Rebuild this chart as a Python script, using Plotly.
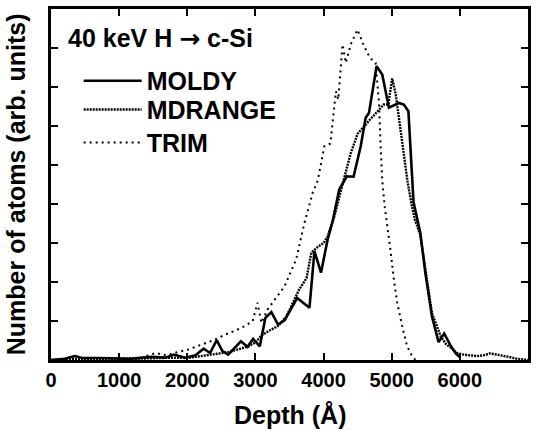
import plotly.graph_objects as go

# ---- data ----
moldy_x = [0, 100, 200, 350, 460, 700, 1150, 1480, 1680, 1800, 1970, 2120, 2240, 2335, 2432,
           2515, 2600, 2787, 2884, 2966, 3064, 3146, 3234, 3331, 3428, 3612, 3793, 3866, 3962,
           4060, 4133, 4230, 4340, 4440, 4545, 4618, 4667, 4778, 4861, 4959, 5105, 5178, 5245,
           5320, 5420, 5493, 5590, 5688, 5770, 5860, 5945, 6000]
moldy_y = [0, 0.02, 0.03, 0.1, 0.05, 0.05, 0.03, 0.08, 0.06, 0.14, 0.06, 0.12, 0.29, 0.18, 0.51,
           0.23, 0.14, 0.48, 0.34, 0.54, 0.35, 1.08, 1.23, 0.91, 1.02, 1.59, 1.34, 2.79, 2.24,
           3.09, 3.56, 4.37, 4.71, 4.70, 5.48, 6.21, 6.34, 7.53, 7.32, 6.47, 6.59, 6.55, 6.38,
           4.05, 3.26, 2.24, 1.12, 0.46, 0.68, 0.38, 0.16, 0.08]

mdrange_x = [0, 300, 600, 900, 1200, 1500, 1800, 2000, 2200, 2400, 2600, 2800, 2900, 3000, 3090,
             3200, 3330, 3450, 3530, 3640, 3750, 3820, 3900, 4000, 4060, 4160, 4270, 4400, 4500,
             4620, 4700, 4780, 4880, 4950, 5007, 5060, 5135, 5180, 5230, 5290, 5340, 5420, 5500,
             5590, 5663, 5720, 5800, 5880, 5950, 6050, 6150, 6250, 6350, 6440, 6540, 6650, 6750,
             6850, 6950, 7000]
mdrange_y = [0.0, 0.03, 0.02, 0.04, 0.03, 0.05, 0.06, 0.05, 0.1, 0.15, 0.2, 0.3, 0.35, 0.45, 0.63,
             0.75, 0.87, 1.1, 1.4, 1.8, 2.1, 2.75, 2.88, 3.0, 3.17, 3.69, 4.45, 5.31, 5.8,
             6.05, 6.2, 6.35, 6.55, 6.55, 7.22, 6.8, 5.8, 5.2, 4.6, 4.0, 3.6, 3.2, 2.25,
             1.2, 0.87, 0.6, 0.4, 0.3, 0.18, 0.14, 0.12, 0.1, 0.12, 0.17, 0.14, 0.1, 0.06,
             0.03, 0.01, 0.0]

trim_x = [0, 300, 600, 900, 1100, 1300, 1533, 1700, 1850, 2019, 2213, 2400, 2554, 2700, 2845,
          2960, 3030, 3088, 3180, 3283, 3428, 3598, 3720, 3841, 3914, 4012, 4100, 4181, 4216,
          4278, 4327, 4400, 4497, 4594, 4680, 4764, 4813, 4837, 4861, 4900, 4940, 4983, 5032,
          5080, 5153, 5226, 5299, 5350]
trim_y = [0, 0.02, 0.03, 0.02, 0.05, 0.04, 0.18, 0.12, 0.2, 0.27, 0.4, 0.52, 0.65, 0.75, 0.87,
          1.0, 1.47, 0.95, 1.3, 1.55, 1.89, 2.58, 3.52, 4.29, 4.6, 5.48, 5.55, 6.89, 6.68,
          8.09, 7.62, 8.1, 8.47, 8.05, 7.75, 7.62, 6.6, 5.5, 4.6, 3.9, 3.4, 2.8, 2.06,
          1.47, 0.87, 0.35, 0.1, 0.0]

x_ticks = [0, 1000, 2000, 3000, 4000, 5000, 6000, 7000]
x_ticktext = ["0", "1000", "2000", "3000", "4000", "5000", "6000", ""]
y_ticks = [0, 1, 2, 3, 4, 5, 6, 7, 8, 9]

FONT = "Liberation Sans, Arial, Helvetica, sans-serif"

fig = go.Figure()
fig.add_trace(go.Scatter(x=moldy_x, y=moldy_y, mode="lines", name="MOLDY", legend="legend",
                         line=dict(color="black", width=2.6)))
fig.add_trace(go.Scatter(x=mdrange_x, y=mdrange_y, mode="lines", name="MDRANGE", legend="legend2",
                         line=dict(color="black", width=2.4, dash="2px,1px")))
fig.add_trace(go.Scatter(x=trim_x, y=trim_y, mode="lines", name="TRIM", legend="legend3",
                         line=dict(color="black", width=2, dash="2px,4px")))

def leg(ypos):
    return dict(x=0.058, y=ypos, xanchor="left", yanchor="middle",
                font=dict(size=25, family=FONT, weight="bold"),
                bgcolor="rgba(0,0,0,0)", borderwidth=0, itemwidth=58)

fig.update_layout(
    width=536, height=430,
    margin=dict(l=51, r=5, t=9, b=70),
    plot_bgcolor="white", paper_bgcolor="white",
    font=dict(family=FONT, color="black", weight="bold"),
    showlegend=True,
    legend=leg(0.795),
    legend2=leg(0.713),
    legend3=leg(0.619),
    annotations=[
        dict(text="40 keV H <span style=\"font-family:'DejaVu Sans'\">\u2192</span> c-Si",
             x=0.032, y=0.915, xref="paper", yref="paper",
             xanchor="left", yanchor="middle", showarrow=False,
             font=dict(size=25, family=FONT, weight="bold")),
        dict(text="Depth (\u00c5)", x=0.5, y=-0.158, xref="paper", yref="paper",
             xanchor="center", yanchor="middle", showarrow=False,
             font=dict(size=25, family=FONT, weight="bold")),
        dict(text="Number of atoms (arb. units)", x=-0.074, y=0.5, xref="paper", yref="paper",
             xanchor="center", yanchor="middle", textangle=-90, showarrow=False,
             font=dict(size=25, family=FONT, weight="bold")),
    ],
)
fig.update_xaxes(range=[0, 7000], tickvals=x_ticks, ticktext=x_ticktext,
                 ticks="inside", ticklen=7, tickwidth=2, tickcolor="black",
                 mirror="allticks", showline=True, linewidth=2.5, linecolor="black",
                 showgrid=False, zeroline=False,
                 tickfont=dict(size=20, family=FONT, weight="bold"))
fig.update_yaxes(range=[0, 9], tickvals=y_ticks, showticklabels=False,
                 ticks="inside", ticklen=7, tickwidth=2, tickcolor="black",
                 mirror="allticks", showline=True, linewidth=2.5, linecolor="black",
                 showgrid=False, zeroline=False)

fig.write_html("out.html", config={"displayModeBar": False},
               post_script="document.body.style.margin='0px';")
